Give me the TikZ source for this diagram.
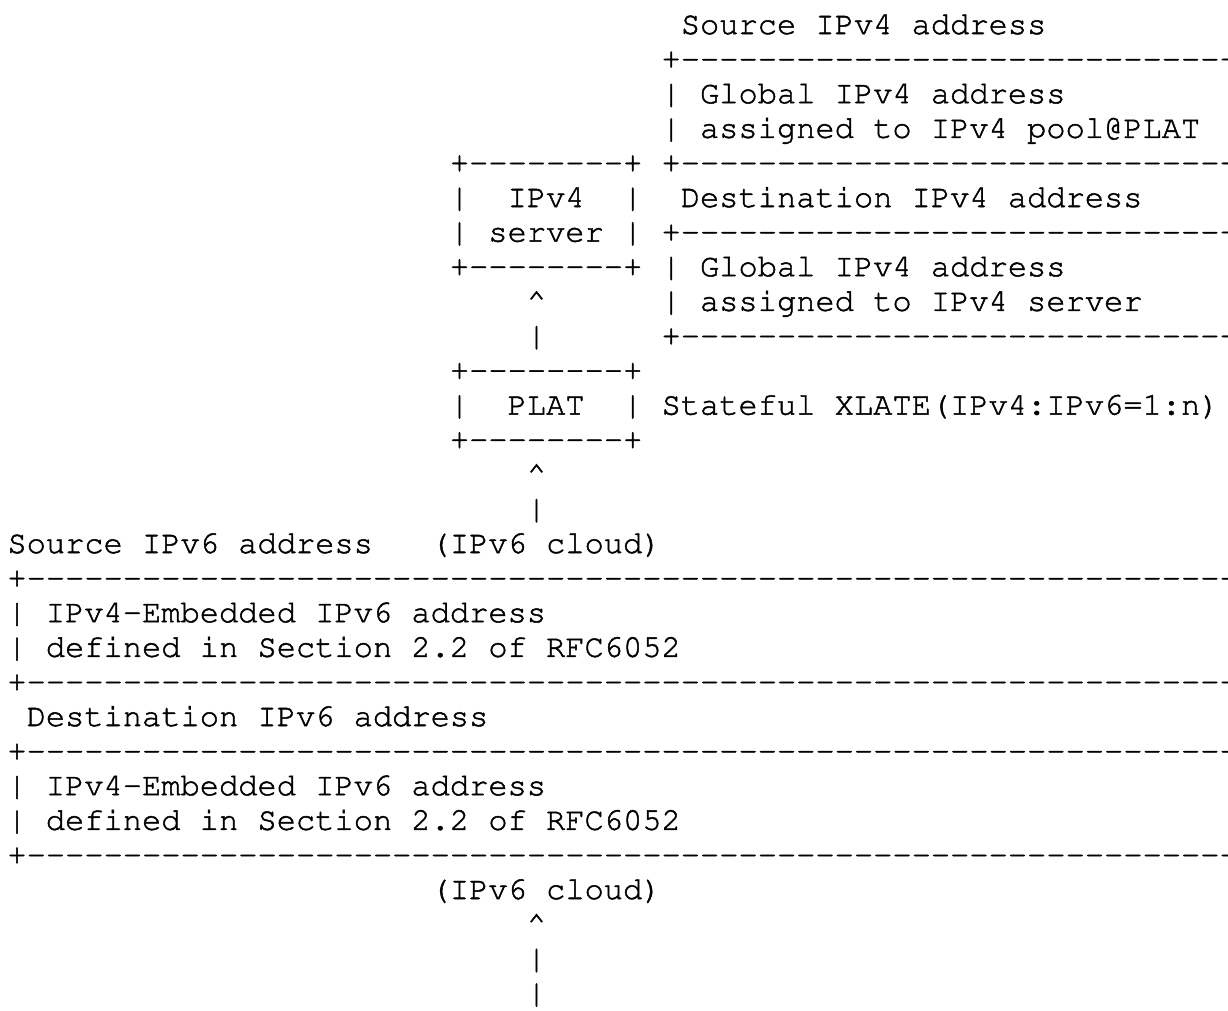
\documentclass[tikz,border=0pt]{standalone}
\usepackage[T1]{fontenc}
\usepackage{courier}
\usetikzlibrary{positioning}

\newcommand{\dashrow}[1]{+\foreach \k in {1,...,#1}{-{}}+}
\newcommand{\inkier}{\special{pdf:literal direct 2 Tr 0.35 w}}

\begin{document}
\begin{tikzpicture}[x=14.43pt,y=-25.95pt,
        ascii/.style={font=\ttfamily\fontsize{24.05pt}{26pt}\selectfont\frenchspacing\inkier,
            anchor=base west,inner sep=0pt,outer sep=0pt}]
        \useasboundingbox (-0.385,-0.983) rectangle (63.44,28.208);
        \clip (-0.385,-0.983) rectangle (63.44,28.208);
        \node[ascii] (srcfour) at (35,0) {Source IPv4 address};
        \node[ascii] (srcfourtop) at (34,1) {\dashrow{28}};
        \node[ascii] (srcfourone) at (34,2) {| Global IPv4 address};
        \node[ascii] (srcfouroner) at (63,2) {|};
        \node[ascii] (srcfourtwo) at (34,3) {| assigned to IPv4 pool@PLAT};
        \node[ascii] (srcfourtwor) at (63,3) {|};
        \node[ascii] (servertop) at (23,4) {\dashrow{8}};
        \node[ascii] (srcfourbot) at (34,4) {\dashrow{28}};
        \node[ascii] (serverone) at (23,5) {|~~IPv4~~|};
        \node[ascii] (dstfour) at (35,5) {Destination IPv4 address};
        \node[ascii] (servertwo) at (23,6) {| server |};
        \node[ascii] (dstfourtop) at (34,6) {\dashrow{28}};
        \node[ascii] (serverbot) at (23,7) {\dashrow{8}};
        \node[ascii] (dstfourone) at (34,7) {| Global IPv4 address};
        \node[ascii] (dstfouroner) at (63,7) {|};
        \node[ascii] (uptipa) at (27,8) {\textasciicircum};
        \node[ascii] (dstfourtwo) at (34,8) {| assigned to IPv4 server};
        \node[ascii] (dstfourtwor) at (63,8) {|};
        \node[ascii] (upbara) at (27,9) {|};
        \node[ascii] (dstfourbot) at (34,9) {\dashrow{28}};
        \node[ascii] (plattop) at (23,10) {\dashrow{8}};
        \node[ascii] (platmid) at (23,11) {|~~PLAT~~| Stateful XLATE(IPv4:IPv6=1:n)};
        \node[ascii] (platbot) at (23,12) {\dashrow{8}};
        \node[ascii] (uptipb) at (27,13) {\textasciicircum};
        \node[ascii] (upbarb) at (27,14) {|};
        \node[ascii] (srcsix) at (0,15) {Source IPv6 address~~~(IPv6 cloud)};
        \node[ascii] (srcsixtop) at (0,16) {\dashrow{66}};
        \node[ascii] (srcsixone) at (0,17) {| IPv4-Embedded IPv6 address};
        \node[ascii] (srcsixtwo) at (0,18) {| defined in Section 2.2 of RFC6052};
        \node[ascii] (srcsixbot) at (0,19) {\dashrow{66}};
        \node[ascii] (dstsix) at (1,20) {Destination IPv6 address};
        \node[ascii] (dstsixtop) at (0,21) {\dashrow{66}};
        \node[ascii] (dstsixone) at (0,22) {| IPv4-Embedded IPv6 address};
        \node[ascii] (dstsixtwo) at (0,23) {| defined in Section 2.2 of RFC6052};
        \node[ascii] (dstsixbot) at (0,24) {\dashrow{66}};
        \node[ascii] (cloud) at (22,25) {(IPv6 cloud)};
        \node[ascii] (uptipc) at (27,26) {\textasciicircum};
        \node[ascii] (upbarc) at (27,27) {|};
        \node[ascii] (upbard) at (27,28) {|};
    \end{tikzpicture}
\end{document}
